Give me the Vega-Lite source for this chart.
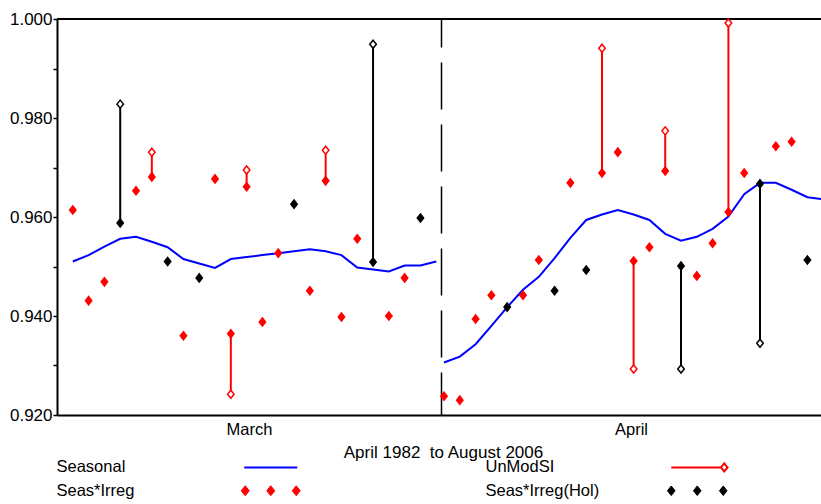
{
  "$schema": "https://vega.github.io/schema/vega-lite/v6.json",
  "background": "white",
  "padding": {"left": 5, "top": 10, "right": 0, "bottom": 0},
  "config": {
    "font": "Liberation Sans",
    "view": {"stroke": null},
    "axis": {"grid": false, "domainColor": "black", "tickColor": "black", "labelColor": "black", "titleColor": "black", "labelFont": "Liberation Sans", "titleFont": "Liberation Sans"}
  },
  "title": {"text": "April 1982\u00a0 to August 2006", "orient": "bottom", "anchor": "middle", "dx": 30, "fontSize": 17, "fontWeight": "normal", "font": "Liberation Sans", "color": "black", "offset": -55},
  "spacing": 0,
  "bounds": "flush",
  "resolve": {"scale": {"color": "shared", "stroke": "shared"}, "legend": {"color": "shared"}},
  "datasets": {
    "seasonal": [
      {"month": "March", "year": 1983, "seasonal": 0.9510}, {"month": "March", "year": 1984, "seasonal": 0.9523}, {"month": "March", "year": 1985, "seasonal": 0.9540}, {"month": "March", "year": 1986, "seasonal": 0.9556}, {"month": "March", "year": 1987, "seasonal": 0.9560}, {"month": "March", "year": 1988, "seasonal": 0.9550}, {"month": "March", "year": 1989, "seasonal": 0.9539}, {"month": "March", "year": 1990, "seasonal": 0.9515}, {"month": "March", "year": 1991, "seasonal": 0.9506}, {"month": "March", "year": 1992, "seasonal": 0.9497}, {"month": "March", "year": 1993, "seasonal": 0.9515}, {"month": "March", "year": 1994, "seasonal": 0.9519}, {"month": "March", "year": 1995, "seasonal": 0.9523}, {"month": "March", "year": 1996, "seasonal": 0.9527}, {"month": "March", "year": 1997, "seasonal": 0.9531}, {"month": "March", "year": 1998, "seasonal": 0.9535}, {"month": "March", "year": 1999, "seasonal": 0.9531}, {"month": "March", "year": 2000, "seasonal": 0.9523}, {"month": "March", "year": 2001, "seasonal": 0.9498}, {"month": "March", "year": 2002, "seasonal": 0.9494}, {"month": "March", "year": 2003, "seasonal": 0.9490}, {"month": "March", "year": 2004, "seasonal": 0.9502}, {"month": "March", "year": 2005, "seasonal": 0.9502}, {"month": "March", "year": 2006, "seasonal": 0.9510},
      {"month": "April", "year": 1982, "seasonal": 0.9306}, {"month": "April", "year": 1983, "seasonal": 0.9318}, {"month": "April", "year": 1984, "seasonal": 0.9343}, {"month": "April", "year": 1985, "seasonal": 0.9380}, {"month": "April", "year": 1986, "seasonal": 0.9418}, {"month": "April", "year": 1987, "seasonal": 0.9453}, {"month": "April", "year": 1988, "seasonal": 0.9479}, {"month": "April", "year": 1989, "seasonal": 0.9517}, {"month": "April", "year": 1990, "seasonal": 0.9558}, {"month": "April", "year": 1991, "seasonal": 0.9594}, {"month": "April", "year": 1992, "seasonal": 0.9605}, {"month": "April", "year": 1993, "seasonal": 0.9614}, {"month": "April", "year": 1994, "seasonal": 0.9605}, {"month": "April", "year": 1995, "seasonal": 0.9594}, {"month": "April", "year": 1996, "seasonal": 0.9566}, {"month": "April", "year": 1997, "seasonal": 0.9552}, {"month": "April", "year": 1998, "seasonal": 0.9560}, {"month": "April", "year": 1999, "seasonal": 0.9576}, {"month": "April", "year": 2000, "seasonal": 0.9601}, {"month": "April", "year": 2001, "seasonal": 0.9646}, {"month": "April", "year": 2002, "seasonal": 0.9669}, {"month": "April", "year": 2003, "seasonal": 0.9669}, {"month": "April", "year": 2004, "seasonal": 0.9655}, {"month": "April", "year": 2005, "seasonal": 0.9640}, {"month": "April", "year": 2006, "seasonal": 0.9636}
    ],
    "si": [
      {"month": "March", "year": 1983, "type": "Seas*Irreg", "si": 0.9614, "unmod": null},
      {"month": "March", "year": 1984, "type": "Seas*Irreg", "si": 0.9431, "unmod": null},
      {"month": "March", "year": 1985, "type": "Seas*Irreg", "si": 0.9469, "unmod": null},
      {"month": "March", "year": 1986, "type": "Seas*Irreg(Hol)", "si": 0.9588, "unmod": 0.9828},
      {"month": "March", "year": 1987, "type": "Seas*Irreg", "si": 0.9653, "unmod": null},
      {"month": "March", "year": 1988, "type": "Seas*Irreg", "si": 0.9681, "unmod": 0.9731},
      {"month": "March", "year": 1989, "type": "Seas*Irreg(Hol)", "si": 0.9510, "unmod": null},
      {"month": "March", "year": 1990, "type": "Seas*Irreg", "si": 0.9360, "unmod": null},
      {"month": "March", "year": 1991, "type": "Seas*Irreg(Hol)", "si": 0.9477, "unmod": null},
      {"month": "March", "year": 1992, "type": "Seas*Irreg", "si": 0.9677, "unmod": null},
      {"month": "March", "year": 1993, "type": "Seas*Irreg", "si": 0.9364, "unmod": 0.9242},
      {"month": "March", "year": 1994, "type": "Seas*Irreg", "si": 0.9661, "unmod": 0.9695},
      {"month": "March", "year": 1995, "type": "Seas*Irreg", "si": 0.9388, "unmod": null},
      {"month": "March", "year": 1996, "type": "Seas*Irreg", "si": 0.9527, "unmod": null},
      {"month": "March", "year": 1997, "type": "Seas*Irreg(Hol)", "si": 0.9626, "unmod": null},
      {"month": "March", "year": 1998, "type": "Seas*Irreg", "si": 0.9451, "unmod": null},
      {"month": "March", "year": 1999, "type": "Seas*Irreg", "si": 0.9673, "unmod": 0.9735},
      {"month": "March", "year": 2000, "type": "Seas*Irreg", "si": 0.9398, "unmod": null},
      {"month": "March", "year": 2001, "type": "Seas*Irreg", "si": 0.9556, "unmod": null},
      {"month": "March", "year": 2002, "type": "Seas*Irreg(Hol)", "si": 0.9509, "unmod": 0.9949},
      {"month": "March", "year": 2003, "type": "Seas*Irreg", "si": 0.9400, "unmod": null},
      {"month": "March", "year": 2004, "type": "Seas*Irreg", "si": 0.9477, "unmod": null},
      {"month": "March", "year": 2005, "type": "Seas*Irreg(Hol)", "si": 0.9598, "unmod": null},
      {"month": "April", "year": 1982, "type": "Seas*Irreg", "si": 0.9238, "unmod": null},
      {"month": "April", "year": 1983, "type": "Seas*Irreg", "si": 0.9230, "unmod": null},
      {"month": "April", "year": 1984, "type": "Seas*Irreg", "si": 0.9394, "unmod": null},
      {"month": "April", "year": 1985, "type": "Seas*Irreg", "si": 0.9442, "unmod": null},
      {"month": "April", "year": 1986, "type": "Seas*Irreg(Hol)", "si": 0.9418, "unmod": null},
      {"month": "April", "year": 1987, "type": "Seas*Irreg", "si": 0.9442, "unmod": null},
      {"month": "April", "year": 1988, "type": "Seas*Irreg", "si": 0.9513, "unmod": null},
      {"month": "April", "year": 1989, "type": "Seas*Irreg(Hol)", "si": 0.9451, "unmod": null},
      {"month": "April", "year": 1990, "type": "Seas*Irreg", "si": 0.9669, "unmod": null},
      {"month": "April", "year": 1991, "type": "Seas*Irreg(Hol)", "si": 0.9493, "unmod": null},
      {"month": "April", "year": 1992, "type": "Seas*Irreg", "si": 0.9689, "unmod": 0.9941},
      {"month": "April", "year": 1993, "type": "Seas*Irreg", "si": 0.9731, "unmod": null},
      {"month": "April", "year": 1994, "type": "Seas*Irreg", "si": 0.9511, "unmod": 0.9293},
      {"month": "April", "year": 1995, "type": "Seas*Irreg", "si": 0.9539, "unmod": null},
      {"month": "April", "year": 1996, "type": "Seas*Irreg", "si": 0.9693, "unmod": 0.9774},
      {"month": "April", "year": 1997, "type": "Seas*Irreg(Hol)", "si": 0.9501, "unmod": 0.9293},
      {"month": "April", "year": 1998, "type": "Seas*Irreg", "si": 0.9481, "unmod": null},
      {"month": "April", "year": 1999, "type": "Seas*Irreg", "si": 0.9547, "unmod": null},
      {"month": "April", "year": 2000, "type": "Seas*Irreg", "si": 0.9610, "unmod": 0.9992},
      {"month": "April", "year": 2001, "type": "Seas*Irreg", "si": 0.9689, "unmod": null},
      {"month": "April", "year": 2002, "type": "Seas*Irreg(Hol)", "si": 0.9667, "unmod": 0.9345},
      {"month": "April", "year": 2003, "type": "Seas*Irreg", "si": 0.9743, "unmod": null},
      {"month": "April", "year": 2004, "type": "Seas*Irreg", "si": 0.9752, "unmod": null},
      {"month": "April", "year": 2005, "type": "Seas*Irreg(Hol)", "si": 0.9513, "unmod": null}
    ]
  },
  "hconcat": [
    {
      "width": 384,
      "height": 396,
      "layer": [
        {
          "data": {"name": "seasonal"},
          "transform": [{"filter": "datum.month == 'March'"}],
          "mark": {"type": "line", "color": "#0000ff", "strokeWidth": 2, "clip": true},
          "encoding": {
            "x": {"field": "year", "type": "quantitative", "scale": {"domain": [1982, 2006.3], "nice": false, "zero": false},
                  "axis": {"labels": false, "ticks": false, "title": "March", "titleFontSize": 16.5, "titleFontWeight": "normal", "titlePadding": 6, "domainWidth": 2}},
            "y": {"field": "seasonal", "type": "quantitative", "scale": {"domain": [0.92, 1.0], "nice": false, "zero": false},
                  "axis": {"values": [0.92, 0.925, 0.93, 0.935, 0.94, 0.945, 0.95, 0.955, 0.96, 0.965, 0.97, 0.975, 0.98, 0.985, 0.99, 0.995, 1.0],
                           "labelExpr": "round(datum.value*1000) % 20 == 0 ? format(datum.value, '.3f') : ''",
                           "labelOverlap": false, "tickSize": 4, "tickWidth": 1.5, "labelPadding": 1, "labelFontSize": 17, "domainWidth": 2, "title": null, "minExtent": 52, "maxExtent": 52}}
          }
        },
        {
          "data": {"name": "si"},
          "mark": {"type": "rule", "color": "black", "strokeWidth": 2},
          "encoding": {"y": {"datum": 1.0, "type": "quantitative"}}
        },
        {
          "data": {"name": "si"},
          "transform": [{"filter": "datum.month == 'March' && datum.unmod != null"}],
          "mark": {"type": "rule", "strokeWidth": 2},
          "encoding": {
            "x": {"field": "year", "type": "quantitative"},
            "y": {"field": "si", "type": "quantitative"},
            "y2": {"field": "unmod"},
            "color": {"field": "type", "type": "nominal",
                      "scale": {"domain": ["Seasonal", "Seas*Irreg", "UnModSI", "Seas*Irreg(Hol)"], "range": ["#0000ff", "#ff0000", "#ff0000", "#000000"]},
                      "legend": {"orient": "none", "legendX": -17, "legendY": 440, "columns": 2, "columnPadding": 166, "rowPadding": 6.5, "title": null,
                                 "labelFont": "Liberation Sans", "labelFontSize": 16.5, "labelColor": "black", "labelLimit": 400, "labelOffset": 0, "symbolSize": 4,
                                 "encode": {"symbols": {"update": {
                                   "shape": {"signal": "datum.value == 'Seasonal' ? 'M196,0L249,0' : datum.value == 'UnModSI' ? 'M194,0L243.7,0M247,-4L250.3,0L247,4L243.7,0ZM247,-4L243.7,0L247,4L250.3,0Z' : datum.value == 'Seas*Irreg' ? 'M197,-5L201,0L197,5L193,0ZM222.5,-5L226.5,0L222.5,5L218.5,0ZM248,-5L252,0L248,5L244,0Z' : 'M194,-4.8L197.8,0L194,4.8L190.2,0ZM220,-4.8L223.8,0L220,4.8L216.2,0ZM246,-4.8L249.8,0L246,4.8L242.2,0Z'"},
                                   "fill": {"signal": "datum.value == 'Seasonal' ? 'transparent' : datum.value == 'UnModSI' ? 'white' : datum.value == 'Seas*Irreg' ? '#ff0000' : '#000000'"},
                                   "stroke": {"signal": "datum.value == 'Seasonal' ? '#0000ff' : datum.value == 'Seas*Irreg(Hol)' ? '#000000' : '#ff0000'"},
                                   "strokeWidth": {"signal": "datum.value == 'Seasonal' || datum.value == 'UnModSI' ? 2 : 1"},
                                   "opacity": {"value": 1},
                                   "size": {"value": 4}
                                 }}}}}
          }
        },
        {
          "data": {"name": "si"},
          "transform": [{"filter": "datum.month == 'March' && datum.unmod != null"}],
          "mark": {"type": "point", "shape": "M0,-1L0.82,0L0,1L-0.82,0Z", "size": 64, "filled": false, "fill": "white", "strokeWidth": 1.5, "opacity": 1},
          "encoding": {
            "x": {"field": "year", "type": "quantitative"},
            "y": {"field": "unmod", "type": "quantitative"},
            "stroke": {"field": "type", "type": "nominal", "scale": {"domain": ["Seasonal", "Seas*Irreg", "UnModSI", "Seas*Irreg(Hol)"], "range": ["#0000ff", "#ff0000", "#ff0000", "#000000"]}, "legend": null}
          }
        },
        {
          "data": {"name": "si"},
          "transform": [{"filter": "datum.month == 'March'"}],
          "mark": {"type": "point", "shape": "M0,-1L0.78,0L0,1L-0.78,0Z", "size": 112, "filled": true, "opacity": 1},
          "encoding": {
            "x": {"field": "year", "type": "quantitative"},
            "y": {"field": "si", "type": "quantitative"},
            "color": {"field": "type", "type": "nominal"}
          }
        }
      ]
    },
    {
      "width": 380,
      "height": 396,
      "layer": [
        {
          "data": {"name": "seasonal"},
          "transform": [{"filter": "datum.month == 'April'"}],
          "mark": {"type": "line", "color": "#0000ff", "strokeWidth": 2, "clip": true},
          "encoding": {
            "x": {"field": "year", "type": "quantitative", "scale": {"domain": [1981.81, 2005.86], "nice": false, "zero": false},
                  "axis": {"labels": false, "ticks": false, "title": "April", "titleFontSize": 16.5, "titleFontWeight": "normal", "titlePadding": 6, "domainWidth": 2}},
            "y": {"field": "seasonal", "type": "quantitative", "scale": {"domain": [0.92, 1.0], "nice": false, "zero": false},
                  "axis": {"labels": false, "ticks": false, "title": null, "domainDash": [47, 15], "domainDashOffset": 4, "domainWidth": 1.5, "minExtent": 0, "maxExtent": 0}}
          }
        },
        {
          "data": {"name": "si"},
          "mark": {"type": "rule", "color": "black", "strokeWidth": 2},
          "encoding": {"y": {"datum": 1.0, "type": "quantitative"}}
        },
        {
          "data": {"name": "si"},
          "transform": [{"filter": "datum.month == 'April' && datum.unmod != null"}],
          "mark": {"type": "rule", "strokeWidth": 2, "clip": true},
          "encoding": {
            "x": {"field": "year", "type": "quantitative"},
            "y": {"field": "si", "type": "quantitative"},
            "y2": {"field": "unmod"},
            "color": {"field": "type", "type": "nominal"}
          }
        },
        {
          "data": {"name": "si"},
          "transform": [{"filter": "datum.month == 'April' && datum.unmod != null"}],
          "mark": {"type": "point", "shape": "M0,-1L0.82,0L0,1L-0.82,0Z", "size": 64, "filled": false, "fill": "white", "strokeWidth": 1.5, "opacity": 1},
          "encoding": {
            "x": {"field": "year", "type": "quantitative"},
            "y": {"field": "unmod", "type": "quantitative"},
            "stroke": {"field": "type", "type": "nominal", "legend": null}
          }
        },
        {
          "data": {"name": "si"},
          "transform": [{"filter": "datum.month == 'April'"}],
          "mark": {"type": "point", "shape": "M0,-1L0.78,0L0,1L-0.78,0Z", "size": 112, "filled": true, "opacity": 1},
          "encoding": {
            "x": {"field": "year", "type": "quantitative"},
            "y": {"field": "si", "type": "quantitative"},
            "color": {"field": "type", "type": "nominal"}
          }
        }
      ]
    }
  ]
}
